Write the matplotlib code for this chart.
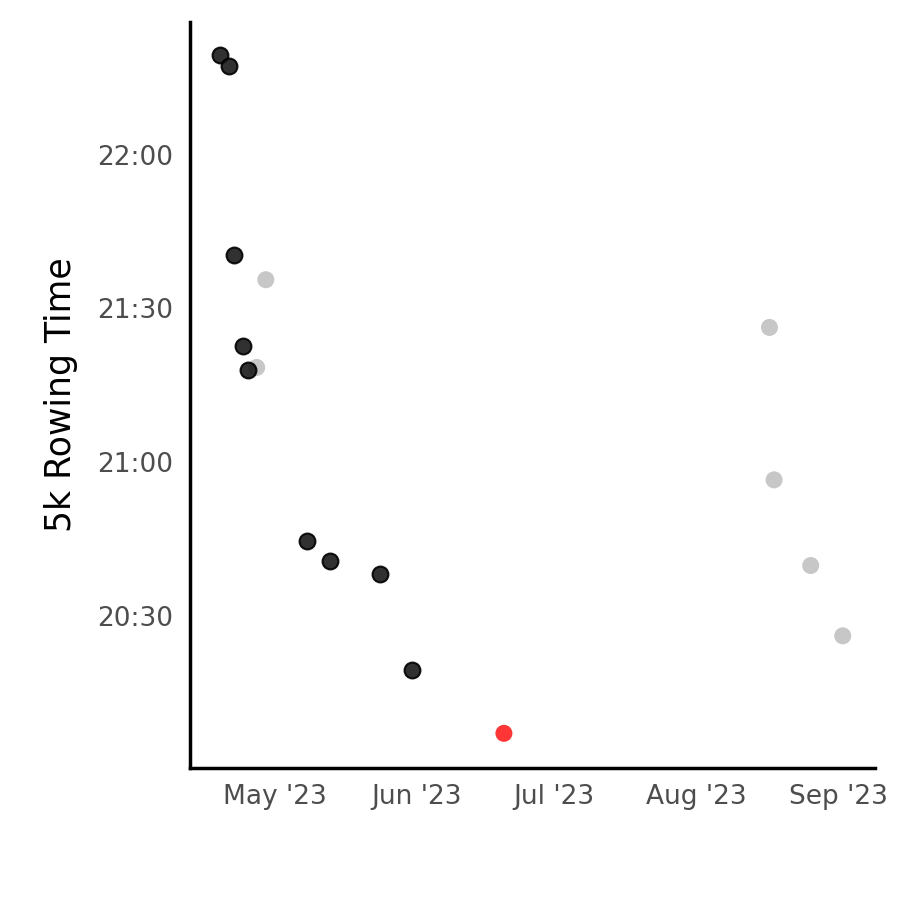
import matplotlib
matplotlib.use("Agg")
import matplotlib.pyplot as plt
import matplotlib.dates as mdates
import pandas as pd

black_dates = ["2023-04-19","2023-04-21","2023-04-22","2023-04-24","2023-04-25","2023-05-08","2023-05-13","2023-05-24","2023-05-31"]
black_secs = [1339.3,1337.2,1300.5,1282.6,1278.1,1244.6,1240.7,1238.2,1219.6]
red_dates = ["2023-06-20"]
red_secs = [1207.2]
grey_dates = ["2023-04-29","2023-04-27","2023-08-17","2023-08-18","2023-08-26","2023-09-02"]
grey_secs = [1295.6,1278.5,1286.3,1256.6,1239.9,1226.2]
ytick_secs = [1230,1260,1290,1320]
ytick_labels = ["20:30","21:00","21:30","22:00"]

fig = plt.figure(figsize=(9,9), dpi=100)
ax = fig.add_axes([0.211,0.147,0.761,0.829])
ax.scatter(pd.to_datetime(grey_dates), grey_secs, s=150, color="#bdbdbd", alpha=0.85, edgecolors="none", zorder=2)
ax.scatter(pd.to_datetime(black_dates), black_secs, s=130, color="#1a1a1a", alpha=0.9, edgecolors="black", linewidths=1.5, zorder=3)
ax.scatter(pd.to_datetime(red_dates), red_secs, s=150, color="#ff2020", alpha=0.9, edgecolors="none", zorder=3)
ax.set_xlim(pd.Timestamp("2023-04-12 10:00"), pd.Timestamp("2023-09-09"))
ax.set_ylim(1200.5, 1345.9)
ax.set_yticks(ytick_secs)
ax.set_yticklabels(ytick_labels)
ax.xaxis.set_major_locator(mdates.MonthLocator())
ax.xaxis.set_major_formatter(mdates.DateFormatter("%b '%y"))
ax.tick_params(length=0, labelsize=19, labelcolor="#4d4d4d", pad=12)
for s in ["top","right"]:
    ax.spines[s].set_visible(False)
for s in ["left","bottom"]:
    ax.spines[s].set_linewidth(2.5)
ax.set_ylabel("5k Rowing Time", fontsize=25, labelpad=14)
fig.savefig("out.png", dpi=100)
